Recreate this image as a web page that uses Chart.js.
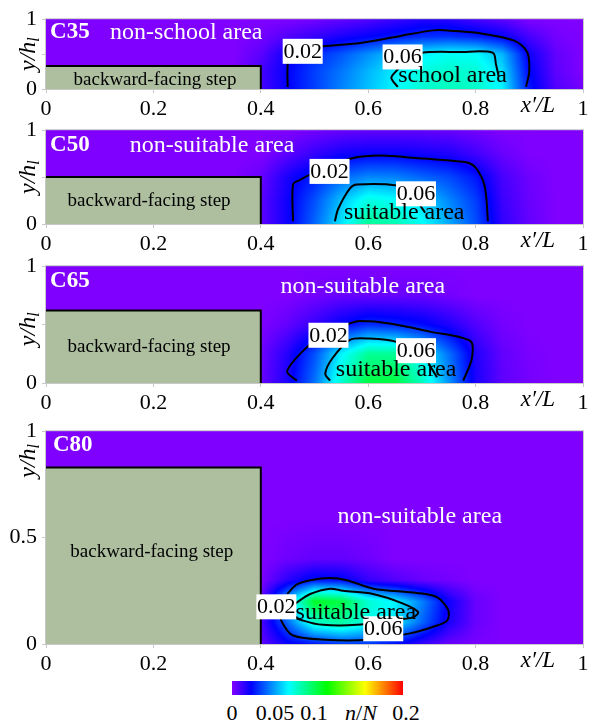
<!DOCTYPE html>
<html>
<head>
<meta charset="utf-8">
<script src="https://cdn.jsdelivr.net/npm/chart.js@4.4.0/dist/chart.umd.min.js"></script>
<style>
  body { margin: 0; background: #fff; width: 594px; height: 724px; position: relative; overflow: hidden; font-family: "Liberation Serif", serif; }
  .panel { position: absolute; left: 0; width: 594px; }
  #cbar { position: absolute; left: 232px; top: 681px; width: 171px; height: 14px;
    background: linear-gradient(to right, hsl(270,100%,50%), hsl(240,100%,50%) 11.1%, hsl(180,100%,50%) 33.3%,
      hsl(120,100%,50%) 55.6%, hsl(60,100%,50%) 77.8%, hsl(0,100%,50%)); }
  .cb { position: absolute; top: 700px; font-size: 22px; line-height: 26px; transform: translateX(-50%); white-space: nowrap; }
</style>
</head>
<body>
<div class="panel" style="top:1px;height:118px"><canvas id="p35" width="594" height="118"></canvas></div>
<div class="panel" style="top:112px;height:142px"><canvas id="p50" width="594" height="142"></canvas></div>
<div class="panel" style="top:248px;height:165px"><canvas id="p65" width="594" height="165"></canvas></div>
<div class="panel" style="top:413px;height:261px"><canvas id="p80" width="594" height="261"></canvas></div>
<div id="cbar"></div>
<span class="cb" style="left:232px">0</span>
<span class="cb" style="left:275px">0.05</span>
<span class="cb" style="left:314px">0.1</span>
<span class="cb" style="left:361px"><i>n</i>/<i>N</i></span>
<span class="cb" style="left:406px">0.2</span>
<script>
// heat map grid: x'/L columns, y/h_l rows, n/N values
const xGrid = [0.35, 0.40, 0.45, 0.50, 0.55, 0.60, 0.65, 0.70, 0.75, 0.80, 0.85, 0.90, 0.95, 1.00];

const c35Y = [0, 0.25, 0.5, 0.75, 1];
const c35N = [
  [0, 0.010, 0.022, 0.033, 0.045, 0.056, 0.066, 0.074, 0.078, 0.076, 0.065, 0.026, 0.008, 0.002],
  [0, 0.010, 0.022, 0.033, 0.043, 0.054, 0.064, 0.072, 0.076, 0.074, 0.061, 0.023, 0.006, 0],
  [0, 0.006, 0.020, 0.029, 0.037, 0.047, 0.057, 0.064, 0.068, 0.067, 0.054, 0.020, 0.005, 0],
  [0, 0.002, 0.008, 0.013, 0.018, 0.022, 0.026, 0.030, 0.031, 0.028, 0.022, 0.010, 0.002, 0],
  [0, 0, 0, 0.002, 0.005, 0.008, 0.012, 0.016, 0.015, 0.010, 0.006, 0, 0, 0]
];
const c50Y = [0, 0.25, 0.5, 0.75, 1];
const c50N = [
  [0, 0.006, 0.020, 0.040, 0.062, 0.085, 0.080, 0.068, 0.052, 0.036, 0.014, 0.005, 0, 0],
  [0, 0.006, 0.020, 0.036, 0.056, 0.072, 0.068, 0.060, 0.046, 0.033, 0.012, 0.004, 0, 0],
  [0, 0.004, 0.018, 0.028, 0.040, 0.046, 0.045, 0.040, 0.035, 0.026, 0.010, 0.003, 0, 0],
  [0, 0, 0.006, 0.013, 0.019, 0.021, 0.021, 0.019, 0.017, 0.011, 0.004, 0, 0, 0],
  [0, 0, 0, 0.002, 0.004, 0.005, 0.005, 0.005, 0.004, 0.002, 0, 0, 0, 0]
];
const c65Y = [0, 0.25, 0.5, 0.75, 1];
const c65N = [
  [0, 0.004, 0.018, 0.042, 0.075, 0.100, 0.100, 0.078, 0.048, 0.018, 0.006, 0.002, 0, 0],
  [0, 0.003, 0.016, 0.036, 0.065, 0.085, 0.085, 0.066, 0.042, 0.017, 0.005, 0.001, 0, 0],
  [0, 0, 0.005, 0.013, 0.022, 0.030, 0.028, 0.024, 0.017, 0.008, 0.002, 0, 0, 0],
  [0, 0, 0, 0.002, 0.004, 0.004, 0.004, 0.004, 0.002, 0, 0, 0, 0, 0],
  [0, 0, 0, 0, 0, 0, 0, 0, 0, 0, 0, 0, 0, 0]
];
const c80Y = [0, 0.1, 0.2, 0.3, 0.4, 0.6, 1];
const c80N = [
  [0, 0.005, 0.020, 0.026, 0.032, 0.032, 0.024, 0.013, 0.004, 0.001, 0, 0, 0, 0],
  [0, 0.008, 0.040, 0.075, 0.082, 0.070, 0.062, 0.040, 0.018, 0.004, 0, 0, 0, 0],
  [0, 0.005, 0.055, 0.105, 0.100, 0.075, 0.065, 0.045, 0.020, 0.004, 0, 0, 0, 0],
  [0, 0, 0.015, 0.026, 0.024, 0.013, 0.008, 0.004, 0.002, 0, 0, 0, 0, 0],
  [0, 0, 0.003, 0.005, 0.005, 0.003, 0, 0, 0, 0, 0, 0, 0, 0],
  [0, 0, 0, 0, 0, 0, 0, 0, 0, 0, 0, 0, 0, 0],
  [0, 0, 0, 0, 0, 0, 0, 0, 0, 0, 0, 0, 0, 0]
];

// step heights (y/h_l)
const c35Step = 0.33, c50Step = 0.5, c65Step = 0.62, c80Step = 0.83;

// contour lines [x'/L, y/h_l]
const c35Line02 = [[0.45,0.03],[0.45,0.35],[0.455,0.45],[0.48,0.55],[0.514,0.61],[0.585,0.66],[0.66,0.76],[0.72,0.84],[0.743,0.84],[0.808,0.80],[0.873,0.69],[0.896,0.53],[0.90,0.26],[0.894,0.03]];
const c35Line06 = [[0.655,0.03],[0.643,0.16],[0.655,0.28],[0.672,0.42],[0.70,0.52],[0.77,0.53],[0.832,0.52],[0.838,0.35],[0.843,0.18]];
const c50Line02 = [[0.46,0.03],[0.46,0.42],[0.473,0.47],[0.50,0.55],[0.57,0.70],[0.622,0.73],[0.696,0.70],[0.78,0.66],[0.80,0.60],[0.817,0.40],[0.823,0.03]];
const c50Line06 = [[0.538,0.03],[0.544,0.16],[0.566,0.38],[0.579,0.42],[0.654,0.41],[0.69,0.33],[0.696,0.21],[0.706,0.12]];
const c65Line02 = [[0.467,0.02],[0.449,0.10],[0.482,0.29],[0.52,0.42],[0.566,0.51],[0.585,0.53],[0.64,0.51],[0.715,0.44],[0.79,0.36],[0.793,0.21],[0.777,0.02]];
const c65Line06 = [[0.529,0.02],[0.52,0.08],[0.533,0.21],[0.566,0.37],[0.603,0.38],[0.654,0.35],[0.70,0.25],[0.72,0.11],[0.728,0.05]];
const c80Line02 = [[0.43,0.18],[0.44,0.10],[0.46,0.04],[0.52,0.02],[0.60,0.02],[0.678,0.05],[0.72,0.08],[0.747,0.11],[0.749,0.16],[0.728,0.22],[0.69,0.24],[0.61,0.26],[0.56,0.30],[0.529,0.31],[0.492,0.30],[0.467,0.28],[0.449,0.235]];
const c80Line06 = [[0.464,0.19],[0.492,0.235],[0.529,0.26],[0.553,0.25],[0.609,0.235],[0.665,0.19],[0.693,0.15],[0.683,0.125],[0.64,0.11],[0.579,0.09],[0.516,0.09],[0.479,0.11],[0.454,0.14],[0.464,0.19]];

const xTicks = [0, 0.2, 0.4, 0.6, 0.8, 1];
const nMax = 0.2;

const SERIF = '"Liberation Serif", serif';
const STEP_FILL = 'rgb(174,191,160)';
Chart.defaults.font.family = SERIF;
Chart.defaults.color = '#000';

function nColor(v) {
  const t = Math.min(Math.max(v / nMax, 0), 1);
  const h = 270 * (1 - t) / 60;
  const i = Math.min(Math.floor(h), 4), f = h - i;
  let r, g, b;
  if (i === 0) { r = 1; g = f; b = 0; }
  else if (i === 1) { r = 1 - f; g = 1; b = 0; }
  else if (i === 2) { r = 0; g = 1; b = f; }
  else if (i === 3) { r = 0; g = 1 - f; b = 1; }
  else { r = f; g = 0; b = 1; }
  return [r * 255, g * 255, b * 255];
}

function locate(arr, v) {
  const n = arr.length - 1;
  if (v <= arr[0]) return [0, 0];
  if (v >= arr[n]) return [n - 1, 1];
  let i = 0;
  while (arr[i + 1] < v) i++;
  return [i, (v - arr[i]) / (arr[i + 1] - arr[i])];
}

function sample(ys, grid, xv, yv) {
  const [i, fx] = locate(xGrid, xv);
  const [j, fy] = locate(ys, yv);
  const a = grid[j][i] * (1 - fx) + grid[j][i + 1] * fx;
  const b = grid[j + 1][i] * (1 - fx) + grid[j + 1][i + 1] * fx;
  return a * (1 - fy) + b * fy;
}

const pts = arr => arr.map(p => ({ x: p[0], y: p[1] }));

function makePanel(id, p) {
  const deco = {
    id: 'deco',
    beforeDatasetsDraw(chart) {
      const { ctx, chartArea: a, scales: { x, y } } = chart;
      const w = Math.round(a.right - a.left), h = Math.round(a.bottom - a.top);
      const off = document.createElement('canvas');
      off.width = w; off.height = h;
      const octx = off.getContext('2d');
      const img = octx.createImageData(w, h);
      for (let j = 0; j < h; j++) {
        const yv = y.getValueForPixel(a.top + j + 0.5);
        for (let i = 0; i < w; i++) {
          const c = nColor(sample(p.yGrid, p.grid, x.getValueForPixel(a.left + i + 0.5), yv));
          const k = (j * w + i) * 4;
          img.data[k] = c[0]; img.data[k + 1] = c[1]; img.data[k + 2] = c[2]; img.data[k + 3] = 255;
        }
      }
      octx.putImageData(img, 0, 0);
      ctx.drawImage(off, a.left, a.top, w, h);
    },
    afterDatasetsDraw(chart) {
      const { ctx, scales: { x, y } } = chart;
      ctx.save();
      ctx.textBaseline = 'middle';
      ctx.textAlign = 'center';
      ctx.font = '22px ' + SERIF;
      p.tags.forEach(t => {
        const px = x.getPixelForValue(t.x), py = y.getPixelForValue(t.y);
        ctx.fillStyle = '#fff';
        ctx.fillRect(px - 20, py - 12, 40, 25);
        ctx.fillStyle = '#000';
        ctx.fillText(t.t, px, py + 1);
      });
      p.texts.forEach(t => {
        ctx.font = (t.bold ? 'bold ' : '') + t.size + 'px ' + SERIF;
        ctx.fillStyle = t.color;
        ctx.textAlign = t.align;
        ctx.fillText(t.t, x.getPixelForValue(t.x), y.getPixelForValue(t.y));
      });
      ctx.restore();
    },
    afterDraw(chart) {
      const { ctx, chartArea: a, scales: { x, y } } = chart;
      ctx.save();
      ctx.strokeStyle = '#c8c8c8';
      ctx.lineWidth = 1;
      ctx.strokeRect(a.left - 0.5, a.top - 0.5, a.right - a.left + 1, a.bottom - a.top + 1);
      // y/h_l title
      ctx.translate(28, y.getPixelForValue(p.yTitleAt));
      ctx.rotate(-Math.PI / 2);
      ctx.fillStyle = '#000';
      ctx.textBaseline = 'alphabetic';
      ctx.font = 'italic 24px ' + SERIF;
      const w1 = ctx.measureText('y/h').width;
      ctx.font = 'italic 16px ' + SERIF;
      const w2 = ctx.measureText('l').width;
      ctx.font = 'italic 24px ' + SERIF;
      ctx.textAlign = 'left';
      ctx.fillText('y/h', -(w1 + w2) / 2, 7);
      ctx.font = 'italic 16px ' + SERIF;
      ctx.fillText('l', -(w1 + w2) / 2 + w1, 11);
      ctx.restore();
      // x'/L label in the tick row
      ctx.save();
      ctx.font = 'italic 23px ' + SERIF;
      ctx.fillStyle = '#000';
      ctx.textAlign = 'center';
      ctx.textBaseline = 'middle';
      ctx.fillText('x\u2032/L', x.getPixelForValue(0.916), a.bottom + 17);
      ctx.restore();
    }
  };

  const line = (d) => ({
    type: 'line', data: pts(d), borderColor: '#000', borderWidth: 2,
    pointRadius: 0, tension: 0.3, fill: false
  });

  new Chart(document.getElementById(id), {
    type: 'scatter',
    data: {
      datasets: [
        line(p.line02),
        line(p.line06),
        {
          type: 'line', data: pts([[0, p.step], [0.4, p.step], [0.4, 0]]),
          borderColor: '#000', borderWidth: 2, backgroundColor: STEP_FILL,
          fill: 'origin', pointRadius: 0, tension: 0
        }
      ]
    },
    options: {
      responsive: false,
      animation: false,
      layout: { padding: { top: 14, right: 11, left: 0, bottom: 0 } },
      plugins: { legend: { display: false }, tooltip: { enabled: false } },
      scales: {
        x: {
          type: 'linear', min: 0, max: 1,
          afterBuildTicks: s => { s.ticks = xTicks.map(v => ({ value: v })); },
          afterFit: s => { s.height = 30; },
          grid: { drawOnChartArea: false, color: '#c8c8c8', tickLength: 4 },
          border: { color: '#c8c8c8' },
          ticks: { font: { size: 22 }, color: '#000', padding: 3, maxRotation: 0, autoSkip: false,
            callback: v => String(Number(v.toFixed(1))) }
        },
        y: {
          type: 'linear', min: 0, max: 1,
          afterBuildTicks: s => { s.ticks = p.yTicks.map(v => ({ value: v })); },
          afterFit: s => { s.width = 46; },
          grid: { drawOnChartArea: false, color: '#c8c8c8', tickLength: 4 },
          border: { color: '#c8c8c8' },
          ticks: { font: { size: 22 }, color: '#000', padding: 5, autoSkip: false,
            callback: v => (p.yLabels.includes(v) ? String(v) : '') }
        }
      }
    },
    plugins: [deco]
  });
}

const white = '#fff', black = '#000';

makePanel('p35', {
  grid: c35N, yGrid: c35Y, step: c35Step, line02: c35Line02, line06: c35Line06,
  yTicks: [0, 0.5, 1], yLabels: [0, 1], yTitleAt: 0.5,
  tags: [{ t: '0.02', x: 0.478, y: 0.547 }, { t: '0.06', x: 0.664, y: 0.466 }],
  texts: [
    { t: 'C35', x: 0.0075, y: 0.81, align: 'left', color: white, size: 23, bold: true },
    { t: 'non-school area', x: 0.119, y: 0.81, align: 'left', color: white, size: 24 },
    { t: 'backward-facing step', x: 0.203, y: 0.135, align: 'center', color: black, size: 19 },
    { t: 'school area', x: 0.757, y: 0.19, align: 'center', color: black, size: 24 }
  ]
});

makePanel('p50', {
  grid: c50N, yGrid: c50Y, step: c50Step, line02: c50Line02, line06: c50Line06,
  yTicks: [0, 0.5, 1], yLabels: [0, 1], yTitleAt: 0.5,
  tags: [{ t: '0.02', x: 0.528, y: 0.566 }, { t: '0.06', x: 0.689, y: 0.327 }],
  texts: [
    { t: 'C50', x: 0.0075, y: 0.837, align: 'left', color: white, size: 23, bold: true },
    { t: 'non-suitable area', x: 0.156, y: 0.837, align: 'left', color: white, size: 24 },
    { t: 'backward-facing step', x: 0.192, y: 0.245, align: 'center', color: black, size: 19 },
    { t: 'suitable area', x: 0.667, y: 0.12, align: 'center', color: black, size: 24 }
  ]
});

makePanel('p65', {
  grid: c65N, yGrid: c65Y, step: c65Step, line02: c65Line02, line06: c65Line06,
  yTicks: [0, 0.5, 1], yLabels: [0, 1], yTitleAt: 0.46,
  tags: [{ t: '0.02', x: 0.526, y: 0.413 }, { t: '0.06', x: 0.689, y: 0.281 }],
  texts: [
    { t: 'C65', x: 0.0075, y: 0.876, align: 'left', color: white, size: 23, bold: true },
    { t: 'non-suitable area', x: 0.59, y: 0.826, align: 'center', color: white, size: 24 },
    { t: 'backward-facing step', x: 0.192, y: 0.306, align: 'center', color: black, size: 19 },
    { t: 'suitable area', x: 0.652, y: 0.116, align: 'center', color: black, size: 24 }
  ]
});

makePanel('p80', {
  grid: c80N, yGrid: c80Y, step: c80Step, line02: c80Line02, line06: c80Line06,
  yTicks: [0, 0.5, 1], yLabels: [0, 0.5, 1], yTitleAt: 0.86,
  tags: [{ t: '0.02', x: 0.429, y: 0.177 }, { t: '0.06', x: 0.628, y: 0.074 }],
  texts: [
    { t: 'C80', x: 0.013, y: 0.935, align: 'left', color: white, size: 23, bold: true },
    { t: 'non-suitable area', x: 0.696, y: 0.60, align: 'center', color: white, size: 24 },
    { t: 'backward-facing step', x: 0.197, y: 0.433, align: 'center', color: black, size: 19 },
    { t: 'suitable area', x: 0.577, y: 0.147, align: 'center', color: black, size: 24 }
  ]
});
</script>
</body>
</html>
